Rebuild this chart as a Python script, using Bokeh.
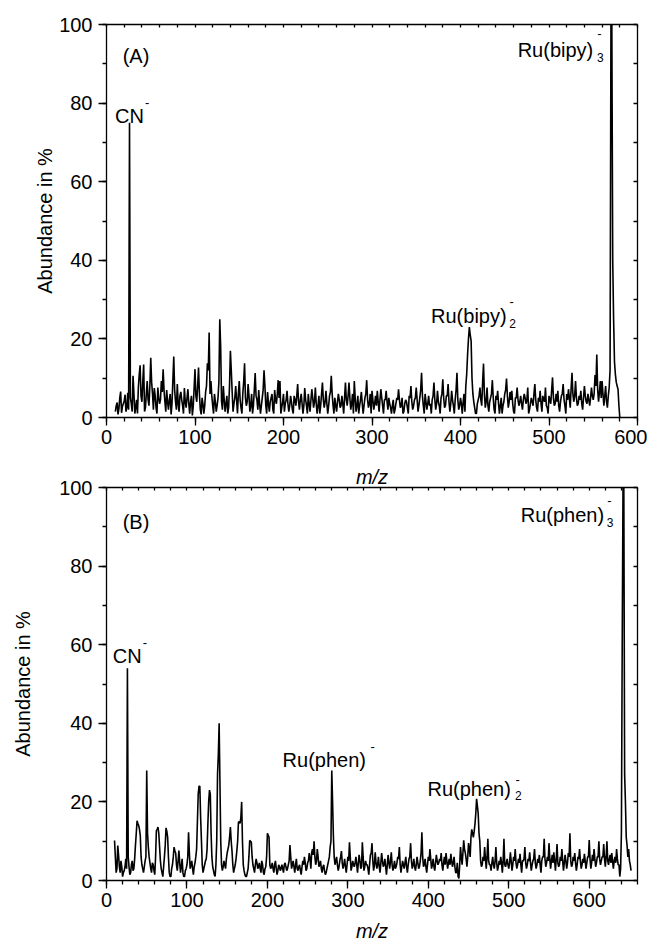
from bokeh.plotting import figure
from bokeh.models import (Range1d, LinearAxis, SingleIntervalTicker, Label,
                          ColumnDataSource, CustomJSTickFormatter)
from bokeh.layouts import column
from bokeh.embed import file_html
from bokeh.resources import INLINE

FONT = "Liberation Sans"

# ---------------- data ----------------
# panel A: abundance at even m/z (10, 12, ... 580) and odd m/z (11, 13, ... 579)
mz_even_start_a = 10
mz_odd_start_a = 11
mz_step = 2
abund_a_even = [
    1.5, 3.8, 2.2, 6.6, 2.8, 4.2, 1.5, 6.3, 75.0, 3.5,
    10.6, 1.0, 4.5, 7.6, 13.3, 4.0, 13.5, 2.5, 9.3, 3.0,
    15.2, 6.0, 7.5, 2.5, 7.6, 3.5, 9.3, 12.3, 4.0, 7.0,
    2.0, 6.0, 3.5, 15.5, 4.0, 8.5, 1.5, 6.5, 3.0, 7.5,
    2.5, 7.2, 1.0, 5.5, 2.8, 12.3, 4.0, 12.7, 2.0, 5.0,
    1.0, 6.5, 13.8, 21.6, 9.3, 3.0, 6.0, 1.5, 5.0, 25.0,
    4.0, 8.0, 1.5, 5.5, 2.5, 17.0, 6.5, 3.5, 8.0, 1.0,
    9.3, 2.5, 6.0, 13.8, 3.0, 8.5, 1.5, 6.0, 3.0, 11.3,
    4.5, 7.0, 1.0, 5.0, 12.0, 3.0, 6.5, 1.5, 5.0, 2.0,
    7.0, 3.5, 9.5, 9.3, 2.5, 6.0, 3.5, 6.8, 1.5, 5.5,
    2.0, 5.5, 3.0, 8.5, 2.0, 6.0, 1.0, 7.5, 3.0, 6.0,
    1.5, 7.2, 2.5, 7.6, 1.0, 5.5, 3.0, 8.9, 2.5, 6.8,
    1.0, 5.5, 10.6, 3.0, 5.0, 1.5, 6.0, 2.5, 5.5, 1.0,
    8.9, 3.0, 8.9, 2.0, 6.0, 9.3, 1.5, 5.5, 3.0, 6.5,
    1.0, 5.0, 9.5, 2.5, 6.0, 6.8, 2.0, 5.5, 6.8, 1.5,
    7.2, 3.0, 4.5, 6.8, 2.0, 3.5, 1.0, 4.5, 2.0, 5.0,
    7.2, 2.5, 5.0, 1.5, 4.5, 2.5, 5.5, 8.0, 2.0, 4.5,
    7.6, 1.5, 5.0, 11.4, 3.0, 6.0, 2.0, 5.5, 3.5, 4.5,
    8.9, 2.0, 6.8, 3.0, 5.0, 9.7, 2.5, 5.5, 8.5, 1.5,
    6.8, 3.0, 4.5, 11.4, 2.0, 5.0, 1.0, 6.0, 8.0, 16.0,
    23.0, 19.5, 6.0, 2.5, 1.0, 4.5, 7.6, 3.0, 13.7, 2.5,
    7.6, 1.5, 5.0, 9.5, 2.0, 5.5, 6.8, 1.0, 5.0, 3.0,
    6.0, 9.9, 2.5, 6.5, 6.8, 1.5, 5.0, 7.6, 3.0, 5.5,
    2.0, 6.0, 3.5, 7.6, 2.0, 5.0, 3.0, 8.5, 2.5, 5.0,
    6.8, 1.5, 4.5, 7.6, 2.5, 5.5, 3.5, 10.2, 3.0, 6.0,
    6.8, 1.5, 5.5, 8.5, 3.0, 6.0, 7.2, 2.5, 11.4, 4.0,
    9.3, 3.0, 5.5, 6.8, 2.0, 8.0, 4.0, 6.0, 3.0, 7.6,
    4.5, 10.8, 16.0, 4.0, 9.3, 9.3, 3.0, 8.0, 2.5, 7.6,
    100.0, 40.0, 14.2, 9.0, 7.2, 0.0,
]
abund_a_odd = [
    3.0, 0.8, 5.0, 1.2, 3.5, 5.8, 2.5, 2.0, 5.0, 1.5,
    6.0, 2.5, 1.0, 11.0, 5.5, 9.0, 1.5, 6.0, 4.5, 8.0,
    9.0, 2.0, 5.5, 1.0, 5.0, 4.5, 6.5, 7.0, 1.5, 4.0,
    4.5, 0.8, 9.5, 7.0, 2.0, 3.5, 5.5, 4.5, 1.0, 4.0,
    5.0, 3.5, 4.0, 0.5, 7.5, 5.5, 8.0, 6.0, 0.8, 3.5,
    3.0, 8.0, 12.0, 6.0, 5.5, 1.0, 4.0, 3.0, 9.0, 18.0,
    2.0, 4.5, 3.5, 1.0, 8.0, 12.0, 1.5, 5.0, 4.5, 6.0,
    4.5, 1.0, 9.0, 5.0, 4.0, 5.5, 3.0, 1.0, 7.0, 5.5,
    2.0, 3.5, 3.0, 7.0, 8.0, 1.0, 3.5, 4.0, 6.0, 1.0,
    4.5, 6.0, 5.0, 1.0, 4.0, 1.5, 4.5, 3.5, 3.0, 4.0,
    1.0, 4.5, 5.5, 4.0, 4.5, 3.5, 3.0, 4.5, 1.0, 3.5,
    4.5, 5.0, 4.0, 3.5, 3.0, 1.0, 6.0, 4.5, 4.0, 3.5,
    3.0, 6.5, 6.0, 1.0, 3.0, 4.0, 4.5, 3.0, 3.5, 5.0,
    4.5, 5.5, 5.0, 3.5, 1.0, 5.0, 3.0, 1.0, 4.5, 3.5,
    3.0, 6.0, 4.5, 3.5, 1.0, 4.5, 3.5, 3.0, 4.0, 4.5,
    5.0, 1.0, 4.5, 4.0, 5.0, 2.5, 3.0, 1.0, 3.5, 4.5,
    4.5, 3.0, 1.0, 3.5, 4.0, 1.0, 5.0, 4.0, 3.0, 5.0,
    4.5, 3.0, 7.0, 5.5, 1.0, 4.0, 3.5, 3.0, 1.0, 5.5,
    4.5, 3.5, 4.0, 1.0, 6.0, 5.0, 3.0, 5.5, 4.0, 3.5,
    4.5, 1.0, 7.0, 4.5, 3.0, 3.5, 4.0, 1.5, 11.0, 20.0,
    21.0, 10.0, 4.0, 1.0, 3.5, 5.5, 4.5, 9.0, 6.0, 4.0,
    3.0, 4.0, 6.0, 5.0, 1.0, 4.5, 3.5, 3.0, 1.0, 4.0,
    7.0, 5.5, 4.0, 4.5, 3.5, 1.0, 5.0, 4.5, 4.0, 3.5,
    4.5, 5.0, 4.5, 1.0, 3.5, 4.0, 6.0, 4.5, 1.5, 4.0,
    3.5, 5.5, 4.0, 3.0, 1.0, 4.5, 7.0, 5.0, 3.5, 4.0,
    3.0, 4.0, 6.0, 4.5, 1.0, 4.5, 5.0, 7.5, 6.0, 5.5,
    5.0, 3.5, 4.5, 3.5, 5.0, 5.5, 3.5, 4.5, 5.0, 5.5,
    6.0, 8.0, 7.0, 6.5, 5.0, 6.0, 5.5, 4.0, 5.5, 12.0,
    100.0, 25.0, 11.0, 8.0, 3.0,
]

# panel B: abundance at even m/z (10, 12, ... 652) and odd m/z (11, 13, ... 651)
mz_even_start_b = 10
mz_odd_start_b = 11
abund_b_even = [
    10.2, 2.0, 8.9, 3.5, 5.0, 1.0, 2.5, 5.5, 54.0, 3.5,
    2.0, 5.0, 3.0, 9.0, 15.2, 14.0, 11.4, 4.0, 2.0, 5.0,
    28.0, 8.5, 4.5, 2.0, 4.0, 1.5, 12.7, 13.6, 8.5, 3.0,
    1.0, 6.0, 13.4, 11.0, 2.0, 1.0, 4.0, 8.5, 7.0, 2.5,
    7.6, 2.0, 5.5, 1.0, 2.5, 4.0, 12.3, 3.0, 5.0, 1.5,
    4.5, 8.0, 22.0, 24.0, 10.2, 2.0, 4.0, 5.5, 14.4, 23.0,
    12.0, 3.5, 1.5, 4.0, 27.0, 40.0, 10.0, 2.5, 5.0, 3.0,
    7.0, 9.0, 13.6, 7.5, 2.0, 4.0, 7.5, 14.8, 14.5, 20.0,
    4.0, 1.5, 1.0, 3.0, 10.2, 9.8, 4.0, 2.0, 5.5, 3.0,
    4.5, 2.0, 4.0, 1.5, 3.5, 12.0, 11.0, 3.0, 4.5, 2.0,
    5.0, 1.5, 4.0, 2.5, 4.0, 2.0, 4.5, 2.5, 4.0, 9.0,
    3.0, 5.0, 2.0, 5.5, 2.5, 4.0, 1.5, 5.0, 6.0, 2.5,
    4.5, 7.0, 3.0, 8.0, 10.0, 4.0, 8.0, 3.5, 5.0, 2.0,
    4.0, 1.5, 3.0, 5.0, 8.5, 28.0, 11.4, 4.0, 6.0, 2.5,
    5.0, 7.5, 3.0, 5.5, 2.0, 6.0, 9.7, 2.5, 5.0, 3.5,
    6.0, 2.0, 6.5, 3.0, 9.7, 2.5, 5.0, 4.0, 1.5, 6.5,
    9.5, 2.5, 7.2, 3.0, 6.0, 2.0, 7.0, 3.5, 5.5, 1.5,
    6.5, 3.0, 7.2, 2.5, 5.0, 3.5, 6.0, 8.5, 2.0, 5.0,
    3.0, 6.0, 2.0, 5.5, 9.5, 3.0, 5.5, 2.5, 6.0, 3.0,
    5.0, 12.3, 3.5, 5.5, 2.0, 6.0, 8.0, 3.0, 5.5, 2.5,
    6.5, 4.0, 5.5, 7.0, 2.5, 6.0, 7.0, 3.0, 5.5, 6.8,
    3.5, 6.0, 2.0, 4.5, 0.5, 8.5, 4.0, 10.2, 7.0, 3.5,
    9.5, 6.0, 13.0, 11.0, 14.4, 20.8, 17.0, 10.0, 3.5, 6.0,
    8.5, 3.0, 10.6, 4.0, 2.5, 6.0, 3.0, 8.5, 2.5, 5.0,
    6.0, 2.0, 10.6, 3.5, 5.5, 3.0, 7.2, 2.5, 6.0, 8.0,
    3.0, 5.5, 6.8, 2.0, 5.0, 8.5, 3.0, 5.5, 7.2, 2.5,
    5.0, 8.0, 3.0, 5.5, 6.5, 2.0, 6.0, 10.6, 3.5, 6.0,
    9.5, 3.0, 6.5, 7.2, 2.5, 9.3, 3.5, 6.0, 8.0, 2.5,
    6.5, 3.0, 7.0, 12.0, 3.5, 6.0, 7.0, 2.5, 6.0, 8.0,
    3.0, 5.5, 6.8, 3.0, 6.0, 10.3, 3.0, 6.5, 8.0, 3.5,
    6.0, 10.0, 4.0, 6.0, 9.3, 3.5, 10.0, 4.0, 6.5, 7.0,
    3.0, 6.0, 8.0, 4.0, 1.0, 12.0, 100.0, 27.0, 11.0, 6.0,
    5.0, 2.5,
]
abund_b_odd = [
    6.0, 3.0, 6.5, 2.0, 3.5, 2.0, 3.5, 3.0, 6.0, 1.5,
    4.0, 2.5, 5.5, 12.0, 14.5, 13.0, 6.0, 3.0, 3.5, 6.0,
    12.0, 6.0, 3.0, 4.5, 2.5, 6.0, 13.0, 12.0, 5.0, 2.0,
    3.5, 9.0, 12.5, 6.0, 1.0, 3.0, 6.0, 7.5, 4.0, 5.0,
    4.5, 3.5, 2.0, 1.0, 3.0, 6.0, 7.0, 4.0, 3.0, 3.5,
    6.0, 15.0, 24.0, 16.0, 4.0, 3.0, 5.0, 8.0, 20.0, 22.0,
    6.0, 2.5, 1.0, 10.0, 32.0, 25.0, 4.0, 3.5, 4.0, 5.5,
    8.0, 11.0, 10.0, 4.0, 3.0, 5.5, 10.0, 15.0, 16.0, 10.0,
    2.5, 1.0, 2.0, 6.0, 10.0, 6.0, 3.0, 4.0, 4.5, 3.5,
    3.0, 5.0, 2.0, 3.0, 6.0, 11.5, 4.0, 3.5, 3.0, 4.0,
    3.0, 2.5, 3.5, 3.0, 3.0, 4.0, 3.5, 3.0, 5.0, 6.0,
    4.0, 3.5, 4.0, 3.0, 3.5, 2.5, 3.5, 4.0, 4.5, 3.0,
    5.0, 5.5, 7.0, 6.5, 6.0, 5.0, 6.0, 4.0, 3.0, 3.5,
    2.5, 2.0, 4.0, 6.0, 10.0, 20.0, 6.0, 5.0, 4.0, 3.5,
    6.0, 4.5, 4.0, 3.5, 4.0, 5.0, 6.0, 3.5, 4.0, 4.5,
    4.0, 4.5, 5.0, 3.5, 6.0, 3.5, 4.0, 3.0, 4.0, 7.0,
    5.0, 4.0, 4.5, 4.0, 3.5, 4.5, 5.0, 4.0, 3.5, 4.0,
    4.5, 5.0, 4.0, 3.5, 3.0, 4.5, 5.5, 4.0, 3.5, 4.0,
    4.5, 3.5, 4.0, 6.0, 5.0, 4.0, 3.5, 4.0, 4.5, 3.5,
    7.0, 6.0, 4.0, 3.5, 4.0, 5.0, 5.5, 4.0, 3.5, 4.5,
    5.0, 4.5, 5.0, 4.0, 4.5, 4.0, 5.0, 4.5, 4.0, 5.0,
    4.5, 3.5, 2.0, 1.0, 4.0, 6.0, 7.0, 8.0, 5.5, 6.0,
    8.0, 11.0, 12.0, 12.5, 17.0, 19.0, 12.0, 5.0, 4.0, 5.0,
    5.5, 6.0, 5.0, 4.0, 4.5, 4.0, 5.0, 4.5, 3.5, 4.0,
    4.5, 5.0, 4.0, 4.5, 4.0, 4.5, 5.0, 4.0, 5.0, 4.5,
    4.0, 4.5, 4.0, 5.0, 5.5, 4.5, 4.0, 5.0, 4.5, 4.0,
    5.5, 4.5, 4.0, 4.5, 4.0, 5.0, 6.0, 5.5, 4.5, 5.0,
    5.5, 5.0, 4.5, 5.0, 5.5, 4.5, 4.0, 5.0, 5.0, 4.5,
    5.0, 4.5, 6.0, 5.0, 4.0, 5.0, 4.5, 4.0, 5.5, 5.0,
    4.0, 4.5, 5.0, 4.5, 6.0, 5.5, 4.5, 5.0, 5.5, 4.5,
    6.0, 5.5, 5.0, 6.0, 5.5, 6.0, 5.0, 5.5, 4.5, 5.0,
    5.0, 4.5, 5.5, 4.0, 3.0, 60.0, 100.0, 20.0, 9.0, 8.0,
    4.0,
]

x_max_a = 600
x_max_b = 660
y_max = 100
x_tick_interval = 100
y_tick_interval = 20

y_label = "Abundance in %"
x_label = "m/z"


def merge(start_e, vals_e, start_o, vals_o, step):
    pts = [(start_e + step * i, v) for i, v in enumerate(vals_e)]
    pts += [(start_o + step * i, v) for i, v in enumerate(vals_o)]
    pts.sort()
    return [p[0] for p in pts], [p[1] for p in pts]


def style_axis(ax, interval, minor, t_in, t_out, m_in, m_out, labels=True, label_standoff=4):
    ax.ticker = SingleIntervalTicker(interval=interval, num_minor_ticks=minor)
    ax.axis_line_color = "black"
    ax.axis_line_width = 1.3
    ax.major_tick_line_color = "black"
    ax.major_tick_line_width = 1.3
    ax.minor_tick_line_color = "black"
    ax.minor_tick_line_width = 1.3
    ax.major_tick_in = t_in
    ax.major_tick_out = t_out
    ax.minor_tick_in = m_in
    ax.minor_tick_out = m_out
    if labels:
        ax.major_label_text_font = FONT
        ax.major_label_text_font_size = "20px"
        ax.major_label_text_color = "black"
        ax.major_label_standoff = label_standoff
        ax.axis_label_text_font = FONT
        ax.axis_label_text_font_size = "20px"
        ax.axis_label_text_color = "black"
    else:
        ax.formatter = CustomJSTickFormatter(code="return ''")
        ax.major_label_standoff = 0


def txt(p, x, y, text, size="20px", baseline="alphabetic"):
    p.add_layout(Label(x=x, y=y, text=text, text_font=FONT, text_font_size=size,
                       text_align="left", text_baseline=baseline, text_color="black"))


def make_panel(xmax, mz, ab, height, b_top, b_bottom, x_standoff, y_standoff):
    p = figure(width=647, height=height,
               x_range=Range1d(0, xmax), y_range=Range1d(0, y_max),
               output_backend="svg", toolbar_location=None,
               min_border_left=106, min_border_right=10,
               min_border_top=b_top, min_border_bottom=b_bottom)
    p.grid.visible = False
    p.outline_line_color = None
    p.border_fill_color = None
    p.background_fill_color = "white"
    xa = p.below[0]
    style_axis(xa, x_tick_interval, 5, 0, 8, 0, 4, label_standoff=4)
    xa.axis_label = x_label
    xa.axis_label_text_font_style = "italic"
    xa.axis_label_standoff = x_standoff
    ya = p.left[0]
    style_axis(ya, y_tick_interval, 2, 0, 8, 0, 4, label_standoff=6)
    ya.axis_label = y_label
    ya.axis_label_text_font_style = "normal"
    ya.axis_label_standoff = y_standoff
    top = LinearAxis()
    style_axis(top, 20, 0, 3, 0, 0, 0, labels=False)
    p.add_layout(top, "above")
    right = LinearAxis()
    style_axis(right, 10, 0, 4, 0, 0, 0, labels=False)
    p.add_layout(right, "right")
    src = ColumnDataSource(dict(mz=mz, ab=ab))
    p.line(x="mz", y="ab", source=src, line_color="black", line_width=1.6)
    return p


mz_a, ab_a = merge(mz_even_start_a, abund_a_even, mz_odd_start_a, abund_a_odd, mz_step)
mz_b, ab_b = merge(mz_even_start_b, abund_b_even, mz_odd_start_b, abund_b_odd, mz_step)

# ---------------- panel A ----------------
pa = make_panel(x_max_a, mz_a, ab_a, 494, 24, 77, 19, 0)
txt(pa, 18.3, 92.1, "(A)", baseline="middle")
txt(pa, 9.6, 76.6, "CN")
txt(pa, 43.5, 80.1, "-", size="13px", baseline="middle")
txt(pa, 366.7, 25.7, "Ru(bipy)")
txt(pa, 455.1, 23.8, "2", size="12px")
txt(pa, 455.5, 29.5, "-", size="13px", baseline="middle")
txt(pa, 464.6, 93.4, "Ru(bipy)")
txt(pa, 554.2, 91.5, "3", size="12px")
txt(pa, 554.5, 97.8, "-", size="13px", baseline="middle")

# ---------------- panel B ----------------
pb = make_panel(x_max_b, mz_b, ab_b, 478, 17, 68, 10, 22)
pb.margin = (-24, 0, 0, 0)
txt(pb, 20.1, 91.2, "(B)", baseline="middle")
txt(pb, 7.7, 57.0, "CN")
txt(pb, 45.0, 60.6, "-", size="13px", baseline="middle")
txt(pb, 218.9, 30.7, "Ru(phen)")
txt(pb, 328.0, 34.1, "-", size="13px", baseline="middle")
txt(pb, 399.0, 23.3, "Ru(phen)")
txt(pb, 507.8, 21.6, "2", size="12px")
txt(pb, 508.5, 25.6, "-", size="13px", baseline="middle")
txt(pb, 514.9, 92.9, "Ru(phen)")
txt(pb, 621.7, 91.2, "3", size="12px")
txt(pb, 622.5, 96.7, "-", size="13px", baseline="middle")

layout = column(pa, pb, spacing=0)
open("out.html", "w").write(file_html(layout, INLINE))
